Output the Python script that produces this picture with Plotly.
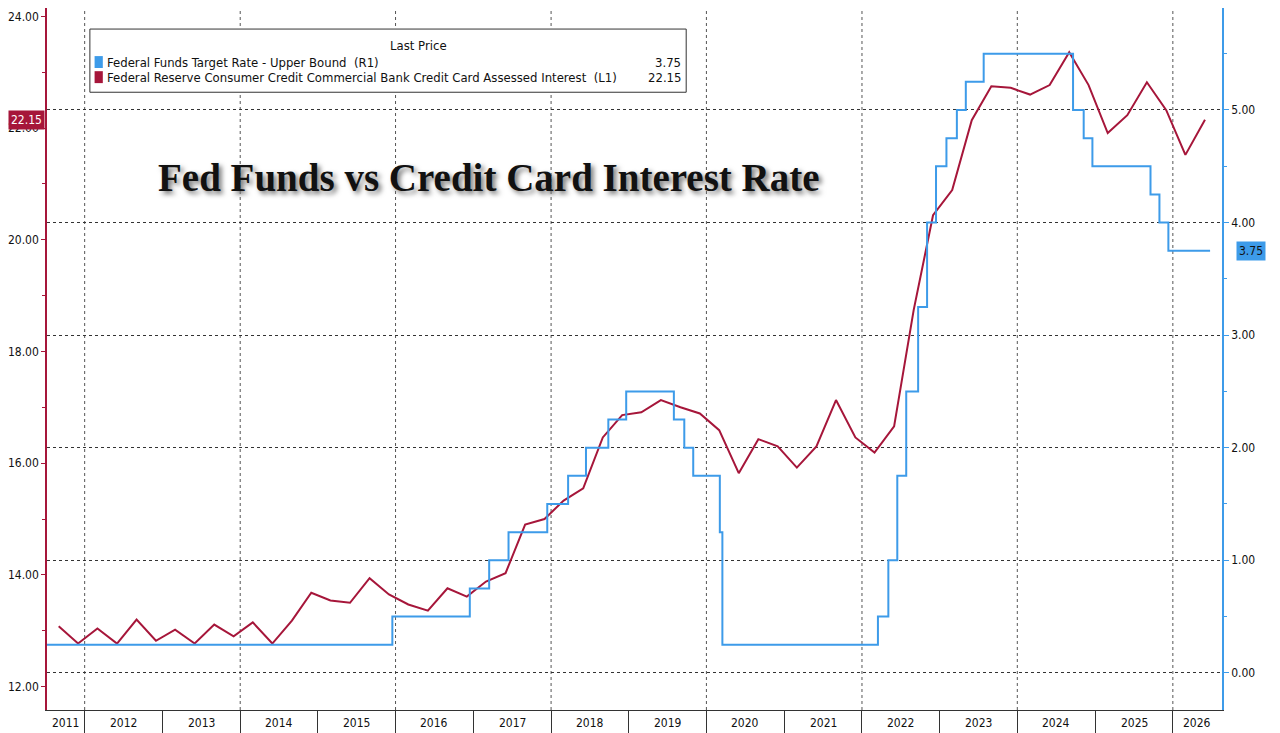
"""Fed Funds vs credit card interest rate, Bloomberg-style dual axis chart."""
import pandas as pd
import plotly.graph_objects as go

RED = "#a6163a"
BLUE = "#3d9be9"

# Federal Funds Target Rate - Upper Bound (R1), change dates
FED_DATES = [
    "2011-07-08", "2015-12-17", "2016-12-15", "2017-03-16", "2017-06-15", "2017-12-14",
    "2018-03-22", "2018-06-14", "2018-09-27", "2018-12-20", "2019-08-01", "2019-09-19",
    "2019-10-31", "2020-03-04", "2020-03-16", "2022-03-17", "2022-05-05", "2022-06-16",
    "2022-07-28", "2022-09-22", "2022-11-03", "2022-12-15", "2023-02-02", "2023-03-23",
    "2023-05-04", "2023-07-27", "2024-09-19", "2024-11-08", "2024-12-19", "2025-09-18",
    "2025-10-30", "2025-12-11", "2026-06-25",
]
FED_RATE = [
    0.25, 0.50, 0.75, 1.00, 1.25, 1.50,
    1.75, 2.00, 2.25, 2.50, 2.25, 2.00,
    1.75, 1.25, 0.25, 0.50, 1.00, 1.75,
    2.50, 3.25, 4.00, 4.50, 4.75, 5.00,
    5.25, 5.50, 5.00, 4.75, 4.50, 4.25,
    4.00, 3.75, 3.75,
]

# Credit card assessed interest (L1), quarterly from Aug 2011
CC_RATE = [
    13.08, 12.77, 13.04, 12.77, 13.20, 12.82, 13.02, 12.77, 13.11, 12.90,
    13.15, 12.77, 13.18, 13.68, 13.54, 13.50, 13.94, 13.65, 13.47, 13.36,
    13.76, 13.61, 13.88, 14.03, 14.90, 15.00, 15.33, 15.55, 16.46, 16.86,
    16.91, 17.13, 17.00, 16.89, 16.59, 15.82, 16.43, 16.30, 15.92, 16.30,
    17.13, 16.46, 16.19, 16.66, 18.74, 20.44, 20.89, 22.14, 22.75, 22.72,
    22.60, 22.77, 23.36, 22.77, 21.91, 22.23, 22.82, 22.32, 21.52, 22.15,
]
CC_DATES = pd.date_range("2011-08-31", periods=len(CC_RATE), freq="3MS")

YEARS = list(range(2011, 2027))
LEFT_TICKS = [12, 14, 16, 18, 20, 22, 24]
RIGHT_TICKS = [0, 1, 2, 3, 4, 5]

X0, X1 = pd.Timestamp("2011-07-08"), pd.Timestamp("2026-08-20")
FONT = "Liberation Sans Narrow, Arial Narrow, DejaVu Sans Condensed, Roboto, sans-serif"

fig = go.Figure()
fig.add_trace(go.Scatter(x=pd.to_datetime(FED_DATES), y=FED_RATE, yaxis="y2", mode="lines",
                         line=dict(color=BLUE, width=2, shape="hv"), name="Fed"))
fig.add_trace(go.Scatter(x=CC_DATES, y=CC_RATE, mode="lines",
                         line=dict(color=RED, width=2), name="CC"))

# dotted vertical grid every two years
for yr in YEARS:
    if yr % 2 == 0:
        fig.add_shape(type="line", xref="x", yref="paper", x0=f"{yr}-01-01", x1=f"{yr}-01-01",
                      y0=0, y1=1, line=dict(color="#555", width=1, dash="dot"), layer="below")

# year labels centred in the visible part of each year
for yr in YEARS:
    a = max(pd.Timestamp(f"{yr}-01-01"), X0)
    b = min(pd.Timestamp(f"{yr + 1}-01-01"), X1)
    fig.add_annotation(x=a + (b - a) / 2, xref="x", y=0, yref="paper", yanchor="top", yshift=-4,
                       text=str(yr), showarrow=False, font=dict(size=12, color="#111", family=FONT))

# legend box
fig.add_shape(type="rect", xref="paper", yref="paper", x0=0.0365, x1=0.544, y0=0.880, y1=0.970,
              line=dict(color="#333", width=1), fillcolor="white")
fig.add_annotation(x=0.29, y=0.946, xref="paper", yref="paper", yanchor="middle", text="Last Price",
                   showarrow=False, font=dict(size=13, family=FONT, color="#111"))
for i, (label, val, col) in enumerate([
    ("Federal Funds Target Rate - Upper Bound  (R1)", "3.75", BLUE),
    ("Federal Reserve Consumer Credit Commercial Bank Credit Card Assessed Interest  (L1)", "22.15", RED),
]):
    yy = 0.923 - i * 0.0215
    fig.add_shape(type="rect", xref="paper", yref="paper", x0=0.0405, x1=0.0475,
                  y0=yy - 0.0085, y1=yy + 0.0085, line=dict(width=0), fillcolor=col)
    fig.add_annotation(x=0.049, y=yy, xref="paper", yref="paper", xanchor="left", yanchor="middle",
                       text=label, showarrow=False, font=dict(size=13, family=FONT, color="#111"))
    fig.add_annotation(x=0.541, y=yy, xref="paper", yref="paper", xanchor="right", yanchor="middle",
                       text=val, showarrow=False, font=dict(size=13, family=FONT, color="#111"))

# title
fig.add_annotation(x=0.376, y=0.759, xref="paper", yref="paper", yanchor="middle",
                   text="<b>Fed Funds vs Credit Card Interest Rate</b>", showarrow=False,
                   font=dict(size=39, family="Liberation Serif, serif", color="#111",
                             shadow="3px 3px 5px #777"))

# last value tags
fig.add_annotation(x=0, xref="paper", xanchor="right", xshift=-2, y=CC_RATE[-1], yref="y",
                   yanchor="middle", text="22.15", showarrow=False, bgcolor=RED,
                   font=dict(color="white", size=12, family=FONT), borderpad=2)
fig.add_annotation(x=1, xref="paper", xanchor="left", xshift=14, y=FED_RATE[-1], yref="y2",
                   yanchor="middle", text="3.75", showarrow=False, bgcolor=BLUE,
                   font=dict(color="#111", size=12, family=FONT), borderpad=2)

# page body has an 8px margin, so the figure is sized to fit inside it
fig.update_layout(
    width=1272, height=725, paper_bgcolor="white", plot_bgcolor="white",
    margin=dict(l=34, r=58, t=0, b=15), showlegend=False,
    xaxis=dict(range=[X0, X1], showgrid=False, showticklabels=False, ticks="outside", ticklen=23,
               tickcolor="#333", tickvals=[f"{y}-01-01" for y in YEARS[1:]],
               showline=True, linecolor="#333", zeroline=False),
    yaxis=dict(range=[11.58, 24.15], tickvals=LEFT_TICKS, ticktext=[f"{v:.2f}" for v in LEFT_TICKS],
               showgrid=False, zeroline=False, showline=True, linecolor=RED, linewidth=1.5,
               ticks="outside", ticklen=4, tickcolor=RED,
               minor=dict(dtick=1, ticks="outside", ticklen=3, tickcolor=RED),
               tickfont=dict(size=12, color="#111", family=FONT)),
    yaxis2=dict(range=[-0.33, 5.906], overlaying="y", side="right", tickvals=RIGHT_TICKS,
                ticktext=[f"{v:.2f}" for v in RIGHT_TICKS], showgrid=True, griddash="dot",
                gridcolor="#333", gridwidth=1, zeroline=False, showline=True, linecolor=BLUE,
                linewidth=1.5, ticks="outside", ticklen=5, tickcolor=BLUE,
                minor=dict(dtick=0.5, ticks="outside", ticklen=3, tickcolor=BLUE),
                tickfont=dict(size=12, color="#111", family=FONT)),
)

fig.write_html("out.html")
